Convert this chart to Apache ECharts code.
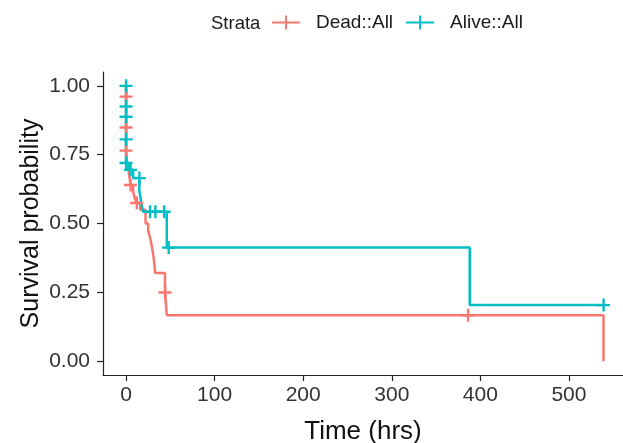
<!DOCTYPE html>
<html>
<head>
<meta charset="utf-8">
<script src="https://cdn.jsdelivr.net/npm/echarts@6/dist/echarts.min.js"></script>
<style>html,body{margin:0;padding:0;background:#fff;}#c{width:623px;height:443px;}</style>
</head>
<body>
<div id="c"></div>
<script>
// Kaplan-Meier step curves (time in hrs, survival probability)
var deadTime = [0, 0, 1, 3, 5, 8, 10, 12, 16, 22, 25, 27, 29, 31, 33, 44, 46, 539];
var deadSurv = [1, 0.76, 0.72, 0.69, 0.64, 0.615, 0.59, 0.575, 0.55, 0.50, 0.475, 0.45, 0.42, 0.38, 0.32, 0.25, 0.167, 0];
var aliveTime = [0, 0, 3, 8, 15, 17, 19, 46, 388, 539];
var aliveSurv = [1, 0.72, 0.695, 0.665, 0.62, 0.58, 0.543, 0.413, 0.204, 0.204];
// censoring marks
var deadCensTime = [0, 0, 0, 5, 12, 44, 386];
var deadCensSurv = [0.961, 0.849, 0.765, 0.64, 0.575, 0.25, 0.167];
var aliveCensTime = [0, 0, 0, 0, 0, 5, 15, 27, 33, 43, 48, 539];
var aliveCensSurv = [1.0, 0.925, 0.888, 0.806, 0.72, 0.695, 0.665, 0.543, 0.543, 0.543, 0.413, 0.204];
var xTicks = [0, 100, 200, 300, 400, 500];
var yTicks = [0, 0.25, 0.5, 0.75, 1];
var strataNames = ['Dead::All', 'Alive::All'];
var colors = ['#F8766D', '#00BFC4'];

function pairs(a, b) { return a.map(function (v, i) { return [v, b[i]]; }); }
var FONT = 'Liberation Sans, Arial, sans-serif';
var plus = 'path://M0,5 L12,5 L12,7.2 L0,7.2 Z M5,0 L7.2,0 L7.2,12 L5,12 Z';
var legendIcon = 'path://M0,6 L28,6 L28,8 L0,8 Z M13,0 L15,0 L15,14 L13,14 Z';

var chart = echarts.init(document.getElementById('c'), null, {renderer: 'canvas'});
chart.setOption({
  backgroundColor: '#fff',
  animation: false,
  title: {
    text: 'Strata', left: 211, top: 14, padding: 0,
    textStyle: {fontFamily: FONT, fontSize: 18.5, fontWeight: 'normal', color: '#1a1a1a'}
  },
  legend: {
    left: 272, top: 13, padding: 0,
    itemWidth: 28, itemHeight: 14, itemGap: 13,
    data: [
      {name: strataNames[0], icon: legendIcon},
      {name: strataNames[1], icon: legendIcon}
    ],
    textStyle: {fontFamily: FONT, fontSize: 19, color: '#1a1a1a', padding: [0, 0, 0, 11]}
  },
  grid: {left: 103, right: 0, top: 72, bottom: 68, containLabel: false, outerBoundsMode: 'none'},
  xAxis: {
    type: 'value', min: -26, max: 561,
    splitLine: {show: false},
    axisLine: {onZero: false, lineStyle: {color: '#222', width: 1.2}},
    axisTick: {customValues: xTicks, length: 6, lineStyle: {color: '#222', width: 1.2}},
    axisLabel: {customValues: xTicks, margin: 10, fontFamily: FONT, fontSize: 21, color: '#333'},
    name: 'Time (hrs)', nameLocation: 'middle', nameGap: 44,
    nameTextStyle: {fontFamily: FONT, fontSize: 26, color: '#111'}
  },
  yAxis: {
    type: 'value', min: -0.05, max: 1.05,
    splitLine: {show: false},
    axisLine: {show: true, onZero: false, lineStyle: {color: '#222', width: 1.2}},
    axisTick: {show: true, customValues: yTicks, length: 6, lineStyle: {color: '#222', width: 1.2}},
    axisLabel: {customValues: yTicks, margin: 13, fontFamily: FONT, fontSize: 21, color: '#333',
      formatter: function (v) { return v.toFixed(2); }},
    name: 'Survival probability', nameLocation: 'middle', nameGap: 59, nameMoveOverlap: false,
    nameTextStyle: {fontFamily: FONT, fontSize: 25, color: '#111'}
  },
  series: [
    {name: strataNames[0], type: 'line', step: 'end', symbol: 'none', data: pairs(deadTime, deadSurv),
     itemStyle: {color: colors[0]}, lineStyle: {color: colors[0], width: 2.5}, z: 2},
    {name: strataNames[1], type: 'line', step: 'end', symbol: 'none', data: pairs(aliveTime, aliveSurv),
     itemStyle: {color: colors[1]}, lineStyle: {color: colors[1], width: 2.5}, z: 3},
    {name: strataNames[0], type: 'scatter', symbol: plus, symbolSize: 13, data: pairs(deadCensTime, deadCensSurv),
     itemStyle: {color: colors[0], opacity: 1}, z: 4},
    {name: strataNames[1], type: 'scatter', symbol: plus, symbolSize: 13, data: pairs(aliveCensTime, aliveCensSurv),
     itemStyle: {color: colors[1], opacity: 1}, z: 5}
  ]
});
</script>
</body>
</html>
